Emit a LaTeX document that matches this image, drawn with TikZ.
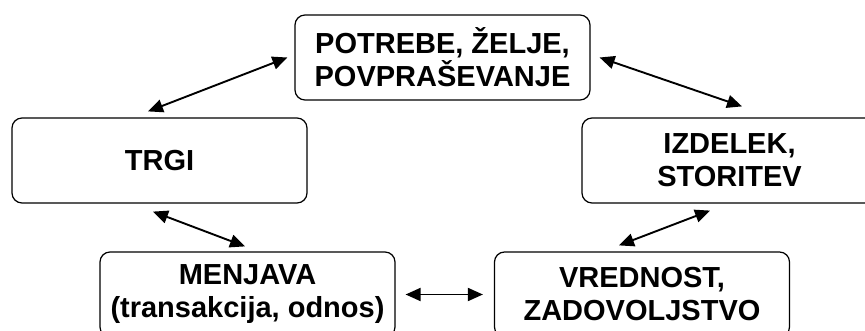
\documentclass[tikz,border=0pt]{standalone}
\usepackage{fontspec}
\setmainfont{Liberation Sans}
\usepackage{tikz}
\usetikzlibrary{positioning}
\usetikzlibrary{arrows.meta}

\begin{document}
\begin{tikzpicture}[x=1pt, y=-1pt, font=\bfseries\fontsize{29}{33}\selectfont]
% Styles:
\tikzset{mybox/.style={draw, line width=1.2pt, rounded corners=10pt, align=center, minimum width=295pt, minimum height=85pt, inner sep=0pt}}
\tikzset{myarrow/.style={line width=1.9pt, {Triangle[length=15pt,width=13pt]}-{Triangle[length=15pt,width=13pt]}}}

\useasboundingbox (0,0) rectangle (865,331);

% Main nodes:
\node[mybox] (pot) at (442.5,57.5) {POTREBE, ŽELJE,\\POVPRAŠEVANJE};
\node[mybox] (trg) at (159.5,160.5) {TRGI};
\node[mybox] (izd) at (729.5,160.5) {IZDELEK,\\STORITEV};

% Lower nodes:
\node[mybox] (men) at (247.5,294.5) {MENJAVA\\(transakcija, odnos)};
\node[mybox] (vre) at (642,294.5) {VREDNOST,\\ZADOVOLJSTVO};

% Arrows:
\draw[myarrow] ([shift={(-11.5,-6)}]trg.north) -- ([shift={(-7,0)}]pot.west);
\draw[myarrow] ([shift={(9,0)}]pot.east) -- ([shift={(12.5,-11)}]izd.north);
\draw[myarrow] ([shift={(-6.5,8)}]trg.south) -- ([shift={(-2.5,-5)}]men.north);
\draw[myarrow] ([shift={(-19.5,7)}]izd.south) -- ([shift={(-23,-6)}]vre.north);
\draw[myarrow] ([xshift=10pt]men.east) -- ([xshift=-11pt]vre.west);
\end{tikzpicture}
\end{document}
